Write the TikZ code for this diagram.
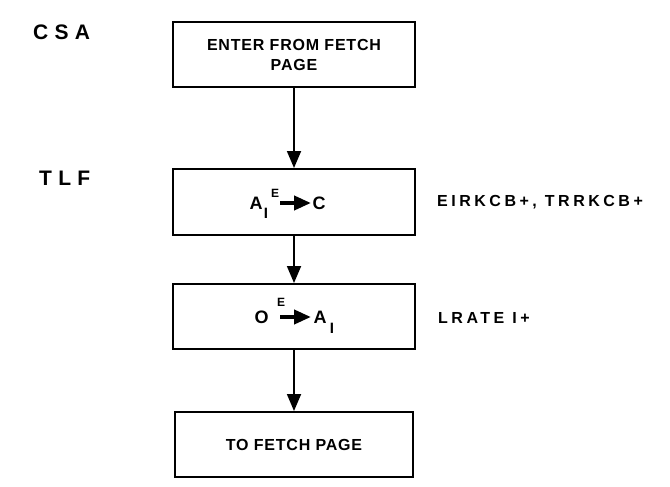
\documentclass[tikz,border=0pt]{standalone}
\usepackage{fontspec}
\setmainfont{Liberation Sans}
\newfontfamily\boxfont[LetterSpace=5]{Liberation Sans}
\newfontfamily\sidefont[LetterSpace=22]{Liberation Sans}
\newfontfamily\tagfont[LetterSpace=30]{Liberation Sans}
\usetikzlibrary{arrows.meta}
\begin{document}
\begin{tikzpicture}[x=1pt,y=-1pt,
  box/.style={draw, line width=2pt, minimum width=242pt, minimum height=65pt,
    inner sep=0pt, align=center, font=\boxfont\bfseries\fontsize{16}{20}\selectfont},
  flow/.style={-{Triangle[length=17pt,width=14pt]}, line width=1.8pt},
  inarrow/.style={-{Triangle[length=17pt,width=14pt]}, line width=4pt},
  txt/.style={inner sep=0pt, font=\bfseries\fontsize{18}{20}\selectfont},
  subs/.style={inner sep=0pt, font=\bfseries\fontsize{15}{18}\selectfont},
  sups/.style={inner sep=0pt, font=\bfseries\fontsize{12}{14}\selectfont},
  side/.style={inner sep=0pt, anchor=west, font=\sidefont\bfseries\fontsize{16}{20}\selectfont},
  tag/.style={inner sep=0pt, anchor=west, font=\tagfont\bfseries\fontsize{21}{24}\selectfont}]
\useasboundingbox (0,0) rectangle (670,487);
\fill[white] (0,0) rectangle (670,487);

\node[tag] (csa) at (33,32.5) {CSA};
\node[tag] (tlf) at (39,178.5) {TLF};

\node[box] (b1) at (294,54.5) {ENTER FROM FETCH\\PAGE};
\node[box, minimum height=66pt] (b2) at (294,202) {};
\node[box] (b3) at (294,316.5) {};
\node[box, minimum width=238pt] (b4) at (294,444.5) {TO FETCH PAGE};

\draw[flow] (b1) -- (b2);
\draw[flow] (b2) -- (b3);
\draw[flow] (b3) -- (b4);

% box 2 contents
\node[txt, anchor=base] (a2) at (256,209) {A};
\node[subs, anchor=base] (i2) at (266,218) {I};
\node[sups] (e2) at (275,193) {E};
\coordinate (s2) at (280,203);
\coordinate (t2) at (311,203);
\draw[inarrow] (s2) -- (t2);
\node[txt, anchor=base] (c2) at (319,209) {C};

% box 3 contents
\node[txt, anchor=base] (o3) at (261.5,323) {O};
\node[sups] (e3) at (281,302.5) {E};
\coordinate (s3) at (280,317);
\coordinate (t3) at (311,317);
\draw[inarrow] (s3) -- (t3);
\node[txt, anchor=base] (a3) at (320,323) {A};
\node[subs, anchor=base] (i3) at (332,333) {I};

\node[side] (r2) at (437,202) {EIRKCB+, TRRKCB+};
\node[side] (r3) at (438,317.5) {LRATE I+};
\end{tikzpicture}
\end{document}
